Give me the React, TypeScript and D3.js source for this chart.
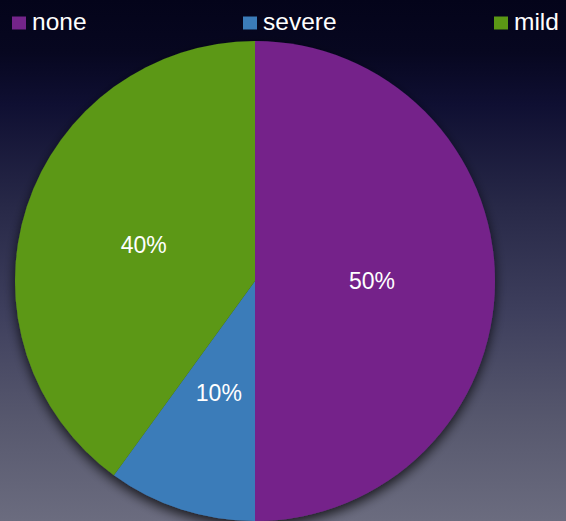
import React from "react";
import * as d3 from "d3";

const categories = ["none", "severe", "mild"];
const values = [50, 10, 40];
const colors = ["#74248a", "#3b7cb9", "#5b9815"];
const legendX = [12, 243, 494];

const W = 566;
const H = 521;
const cx = 255;
const cy = 281;
const R = 240;

export default function App() {
  const pie = d3.pie<number>().sort(null).value((d) => d)(values);
  const arc = d3.arc<d3.PieArcDatum<number>>().innerRadius(0).outerRadius(R);
  const labelArc = d3.arc<d3.PieArcDatum<number>>().innerRadius(117).outerRadius(117);
  const total = d3.sum(values);
  return (
    <svg width={W} height={H} style={{ position: "absolute", left: 0, top: 0, display: "block" }}
      fontFamily="Liberation Sans, Arial, sans-serif">
      <defs>
        <linearGradient id="bg" x1="0" y1="0" x2="0" y2="1">
          <stop offset="0" stopColor="#04041a" />
          <stop offset="0.1" stopColor="#070720" />
          <stop offset="0.2" stopColor="#0f0f32" />
          <stop offset="0.4" stopColor="#282948" />
          <stop offset="0.6" stopColor="#3e3f5d" />
          <stop offset="0.8" stopColor="#56576d" />
          <stop offset="1" stopColor="#6b6c7f" />
        </linearGradient>
        <filter id="shadow" x="-20%" y="-20%" width="140%" height="140%">
          <feGaussianBlur in="SourceAlpha" stdDeviation="6" />
          <feOffset dx="0" dy="5" result="b" />
          <feComponentTransfer>
            <feFuncA type="linear" slope="0.75" />
          </feComponentTransfer>
          <feMerge>
            <feMergeNode />
            <feMergeNode in="SourceGraphic" />
          </feMerge>
        </filter>
      </defs>
      <rect x={0} y={0} width={W} height={H} fill="url(#bg)" />
      <g transform={`translate(${cx},${cy})`} filter="url(#shadow)">
        {pie.map((p, i) => (
          <path key={i} d={arc(p) || ""} fill={colors[i]} />
        ))}
      </g>
      <g transform={`translate(${cx},${cy})`}>
        {pie.map((p, i) => {
          const [x, y] = labelArc.centroid(p);
          return (
            <text key={i} x={x} y={y} dy="0.36em" textAnchor="middle" fill="#ffffff" fontSize={23}>
              {Math.round((values[i] / total) * 100) + "%"}
            </text>
          );
        })}
      </g>
      {categories.map((c, i) => (
        <g key={c}>
          <rect x={legendX[i]} y={16.5} width={14} height={13} fill={colors[i]} />
          <text x={legendX[i] + 20} y={30} fill="#ffffff" fontSize={24.5}>{c}</text>
        </g>
      ))}
    </svg>
  );
}
